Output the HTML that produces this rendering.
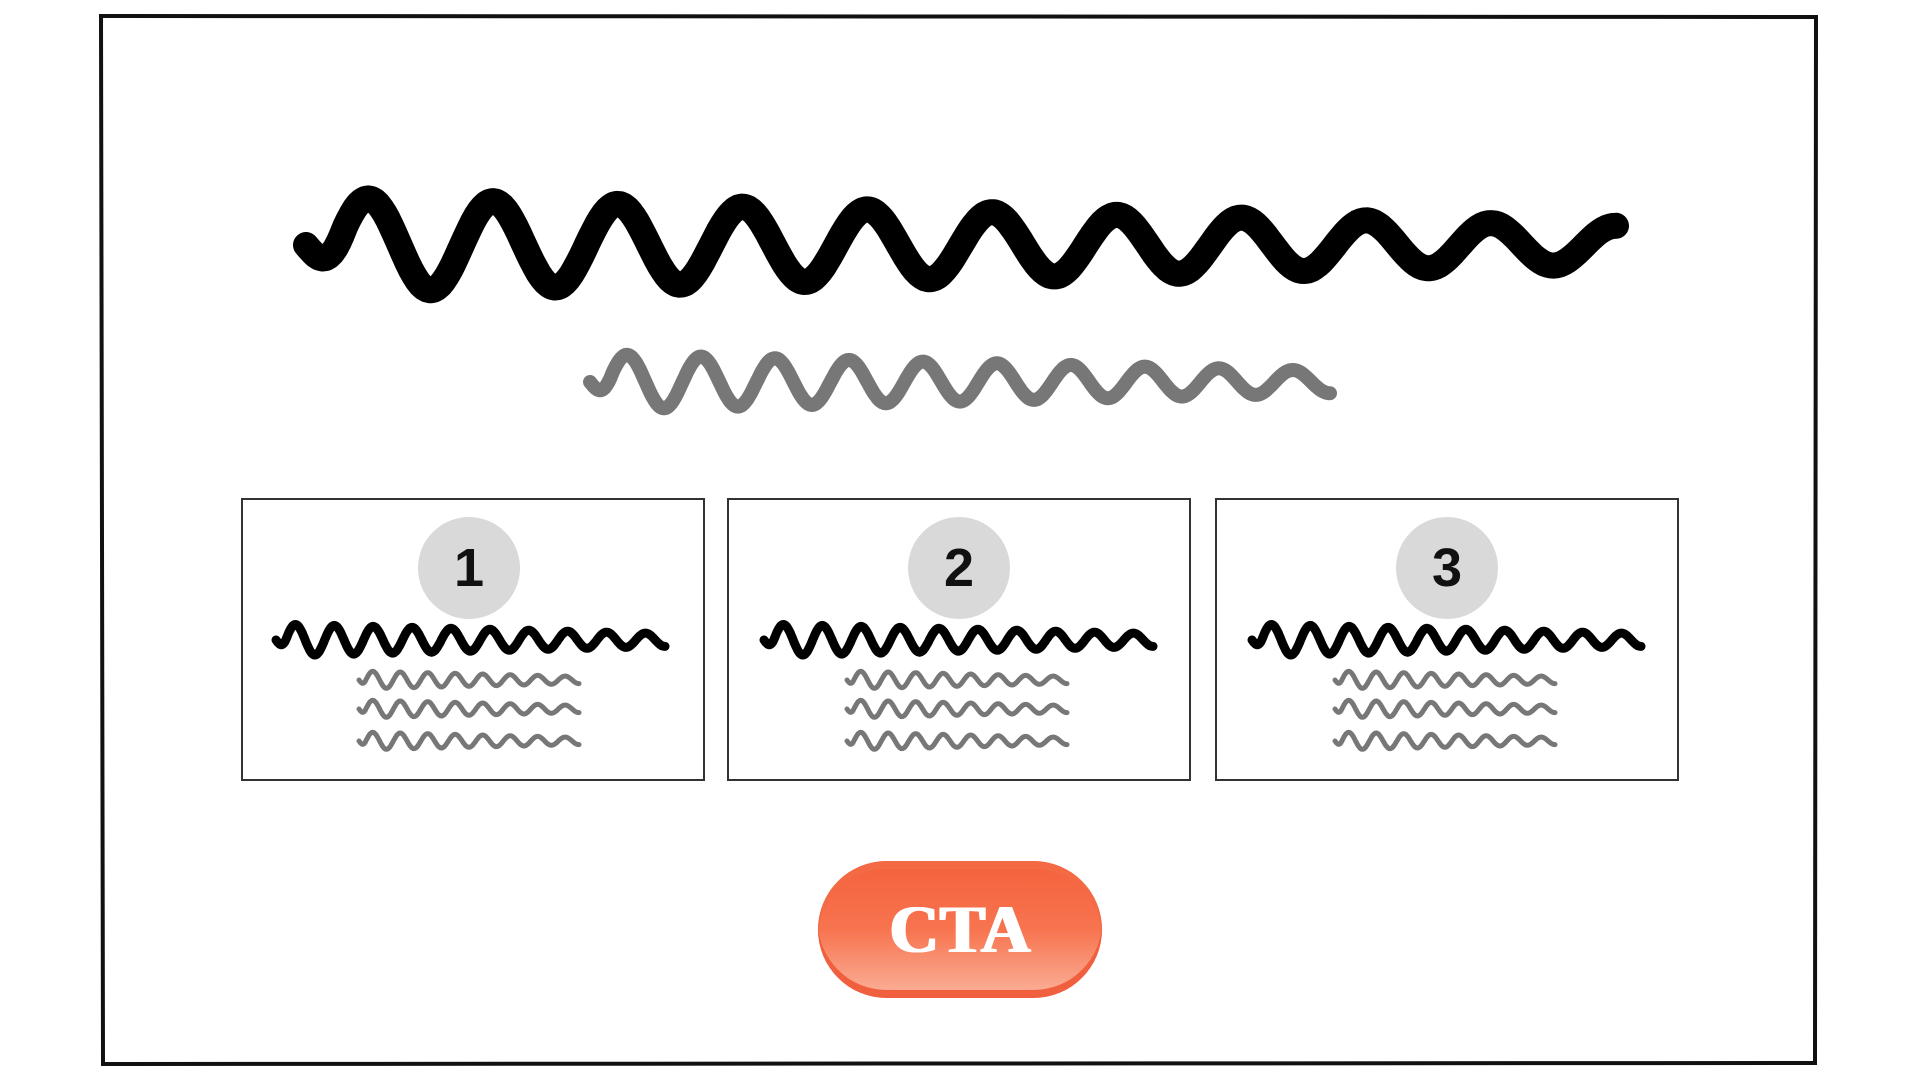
<!DOCTYPE html>
<html><head><meta charset="utf-8"><style>
html,body{margin:0;padding:0;background:#fff;}
body{width:1920px;height:1080px;position:relative;overflow:hidden;font-family:"Liberation Sans",sans-serif;}
.box{position:absolute;border:2px solid #333;box-sizing:border-box;}
.circ{position:absolute;width:102px;height:102px;border-radius:50%;background:#d9d9d9;color:#111;font-weight:bold;font-size:54px;line-height:102px;text-align:center;}
.cta{position:absolute;left:818px;top:861px;width:284px;height:137px;border-radius:69px;background:linear-gradient(#f5603c 0%,#f7744f 50%,#fbb29c 100%);box-shadow:inset 0 -8px 0 #f0603e, inset 0 8px 0 #f46a44;color:#fff;font-family:"Liberation Serif",serif;font-weight:900;font-size:68px;text-align:center;line-height:137px;letter-spacing:1px;text-shadow:1px 0 0 #fff,-1px 0 0 #fff,2px 0 0 #fff;}
svg{position:absolute;left:0;top:0;}
</style></head><body>
<svg width="1920" height="1080" id="s">
<path d="M101 16 L1816 17 L1815 1063 L103 1064 Z" fill="none" stroke="#111" stroke-width="4"/>
</svg>
<div class="box" style="left:241px;top:498px;width:464px;height:283px"></div>
<div class="box" style="left:727px;top:498px;width:464px;height:283px"></div>
<div class="box" style="left:1215px;top:498px;width:464px;height:283px"></div>
<div class="circ" style="left:418px;top:517px">1</div>
<div class="circ" style="left:908px;top:517px">2</div>
<div class="circ" style="left:1396px;top:517px">3</div>
<div class="cta">CTA</div>
<script>
var s=document.getElementById('s');
function wave(x0,x1,yc,amp,n,sw,col){
  var d='',N=400;
  for(var i=0;i<=N;i++){
    var t=i/N,x=x0+(x1-x0)*t;
    var a=amp*(1-0.6*t);
    var y=yc-a*Math.sin(t*n*2*Math.PI - Math.PI/2)*(t<0.03?t/0.03:1);
    d+=(i?'L':'M')+x.toFixed(1)+' '+y.toFixed(1);
  }
  var p=document.createElementNS('http://www.w3.org/2000/svg','path');
  p.setAttribute('d',d);p.setAttribute('fill','none');p.setAttribute('stroke',col);
  p.setAttribute('stroke-width',sw);p.setAttribute('stroke-linecap','round');p.setAttribute('stroke-linejoin','round');
  s.appendChild(p);
}
wave(306,1616,245,48,10.5,26,'#000');
wave(590,1330,382,28,10,14,'#777');
[276,764,1252].forEach(function(x){
  wave(x,x+389,640,16,10,9,'#000');
  [680,709,741].forEach(function(y){wave(x+83,x+303,y,9,8,5,'#777');});
});
</script>
</body></html>
